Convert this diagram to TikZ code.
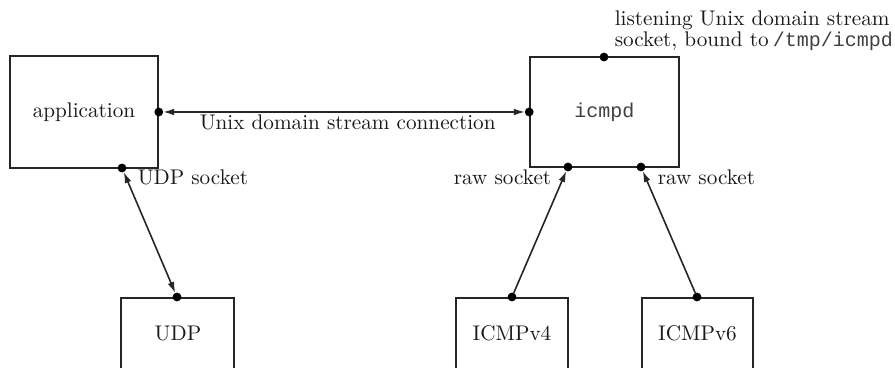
\documentclass[tikz,border=0pt]{standalone}
\usepackage{fontspec}
\newfontfamily\codefont{Liberation Mono}
\usetikzlibrary{arrows.meta}
\begin{document}
\begin{tikzpicture}[x=0.5pt,y=-0.5pt,
  line width=0.8pt,
  every node/.style={font=\fontsize{10.6}{11}\selectfont, text=black!90},
  box/.style={draw=black!85, line width=0.8pt, rectangle, inner sep=0pt},
  lbl/.style={inner sep=0pt},
  code/.style={inner sep=0pt, font=\codefont\fontsize{10}{11}\selectfont, text=black!75},
  dotc/.style={fill=black},
  conn/.style={draw=black!85, line width=0.8pt, shorten <=2.2pt, shorten >=2.2pt},
  tip/.style={-{Latex[length=5.5pt,width=3.4pt]}},
  tips/.style={{Latex[length=5.5pt,width=3.4pt]}-{Latex[length=5.5pt,width=3.4pt]}}
]
\useasboundingbox (0,0) rectangle (895,368);
\clip (0,0) rectangle (895,368);

% boxes
\node[box, minimum width=74pt, minimum height=56pt] (app) at (84,112) {application};
\node[box, minimum width=74.5pt, minimum height=55pt, code] (icmpd) at (604.5,112) {icmpd};
\node[box, anchor=north, minimum width=56.5pt, minimum height=60pt] (udp) at (177.5,297) {};
\node[box, anchor=north, minimum width=56pt, minimum height=60pt] (v4) at (512,297) {};
\node[box, anchor=north, minimum width=55.5pt, minimum height=60pt] (v6) at (697.5,297) {};
\node[lbl] (udpt) at (178,333) {UDP};
\node[lbl] (v4t) at (512,333) {ICMPv4};
\node[lbl] (v6t) at (697.5,333) {ICMPv6};

% attachment points
\coordinate (appR) at (app.east);
\coordinate (appB) at (122,168);
\coordinate (icL) at (icmpd.west);
\coordinate (icT) at (604,57);
\coordinate (icB1) at (568,167);
\coordinate (icB2) at (641,167);
\coordinate (udpT) at (177,297);
\coordinate (v4T) at (512,297);
\coordinate (v6T) at (697,297);

% connectors
\draw[conn, tips] (appR) -- (icL);
\draw[conn, tips] (appB) -- (udpT);
\draw[conn, tip] (v4T) -- (icB1);
\draw[conn, tip] (v6T) -- (icB2);

% dots
\foreach \p in {appR,appB,icL,icT,icB1,icB2,udpT,v4T,v6T}
  \fill[dotc] (\p) circle (2.2pt);

% labels
\node[lbl, anchor=base west] (lconn) at (199,130) {Unix domain stream connection};
\node[lbl, anchor=base west] (ludp) at (137,185) {UDP socket};
\node[lbl, anchor=base east] (lraw1) at (552,185) {raw socket};
\node[lbl, anchor=base west] (lraw2) at (657,185) {raw socket};
\node[lbl, anchor=base west] (llist1) at (614,26) {listening Unix domain stream};
\node[lbl, anchor=base west] (llist2) at (614,47) {socket, bound to};
\node[code, anchor=base west] (lpath) at (772,47) {/tmp/icmpd};
\end{tikzpicture}
\end{document}
